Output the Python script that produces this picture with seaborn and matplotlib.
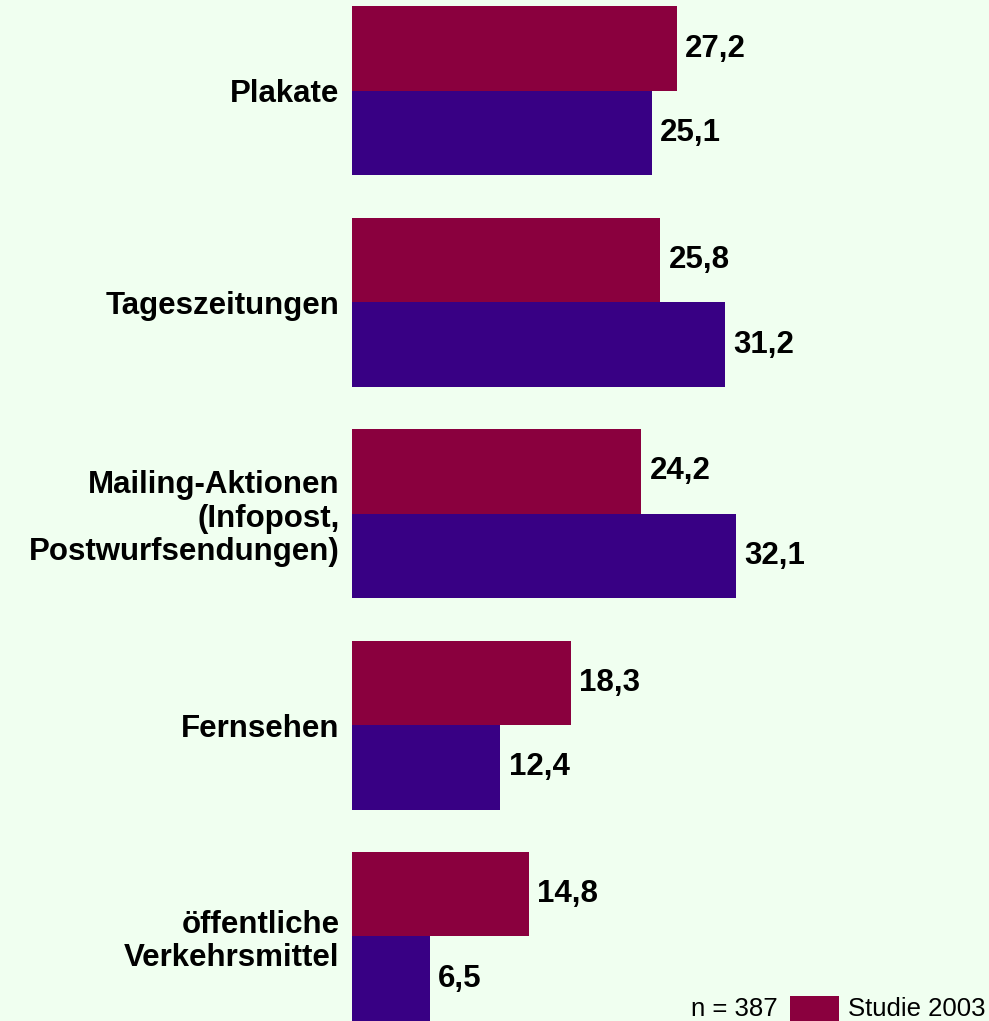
import matplotlib
matplotlib.use("Agg")
import matplotlib.pyplot as plt
from matplotlib.patches import Rectangle
import pandas as pd
import seaborn as sns

# Werbemedien und Anteile (%) je Studie
kategorien = [
    "Plakate",
    "Tageszeitungen",
    "Mailing-Aktionen\n(Infopost,\nPostwurfsendungen)",
    "Fernsehen",
    "öffentliche\nVerkehrsmittel",
]
studie_2003 = [27.2, 25.8, 24.2, 18.3, 14.8]
studie_neu = [25.1, 31.2, 32.1, 12.4, 6.5]
serien = ["Studie 2003", "Studie 2006"]
farben = ["#8A003E", "#380084"]
hintergrund = "#F0FFF0"

df = pd.DataFrame({
    "kategorie": kategorien * 2,
    "wert": studie_2003 + studie_neu,
    "studie": [serien[0]] * len(kategorien) + [serien[1]] * len(kategorien),
})

sns.set_theme(style="white")
plt.rcParams["font.family"] = ["Liberation Sans", "DejaVu Sans"]

fig = plt.figure(figsize=(9.89, 10.21), dpi=100, facecolor=hintergrund)
ax = fig.add_axes([352 / 989, 0, 1 - 352 / 989, 1])
ax.set_facecolor(hintergrund)

sns.barplot(
    data=df, x="wert", y="kategorie", hue="studie", orient="h",
    palette=farben, saturation=1, width=0.8, legend=False, ax=ax,
    edgecolor="none", linewidth=0,
)

for cont in ax.containers:
    ax.bar_label(
        cont, labels=[f"{v:.1f}".replace(".", ",") for v in cont.datavalues],
        padding=6, fontsize=22.5, fontweight="bold", color="black",
    )

ax.set_xlim(0, 637 / 11.95)
ax.set_ylim(4.40, -0.43)
ax.set_xlabel("")
ax.set_ylabel("")
ax.set_xticks([])
ax.tick_params(axis="y", length=0, pad=9, labelcolor="black")
for lbl in ax.get_yticklabels():
    lbl.set_fontsize(22.5)
    lbl.set_fontweight("bold")
    lbl.set_multialignment("right")
    lbl.set_linespacing(1.15)
sns.despine(ax=ax, left=True, bottom=True)

# Fallzahl und Legende unten rechts
fig.text(778 / 989, 5.5 / 1021, "n = 387", ha="right", va="baseline",
         fontsize=18.5, color="black")
fig.patches.append(Rectangle((790 / 989, 0), 49 / 989, 25 / 1021,
                             transform=fig.transFigure, facecolor=farben[0],
                             edgecolor="none"))
fig.text(848 / 989, 5.5 / 1021, serien[0], ha="left", va="baseline",
         fontsize=18.5, color="black")

fig.savefig("out.png", dpi=100, facecolor=hintergrund)
